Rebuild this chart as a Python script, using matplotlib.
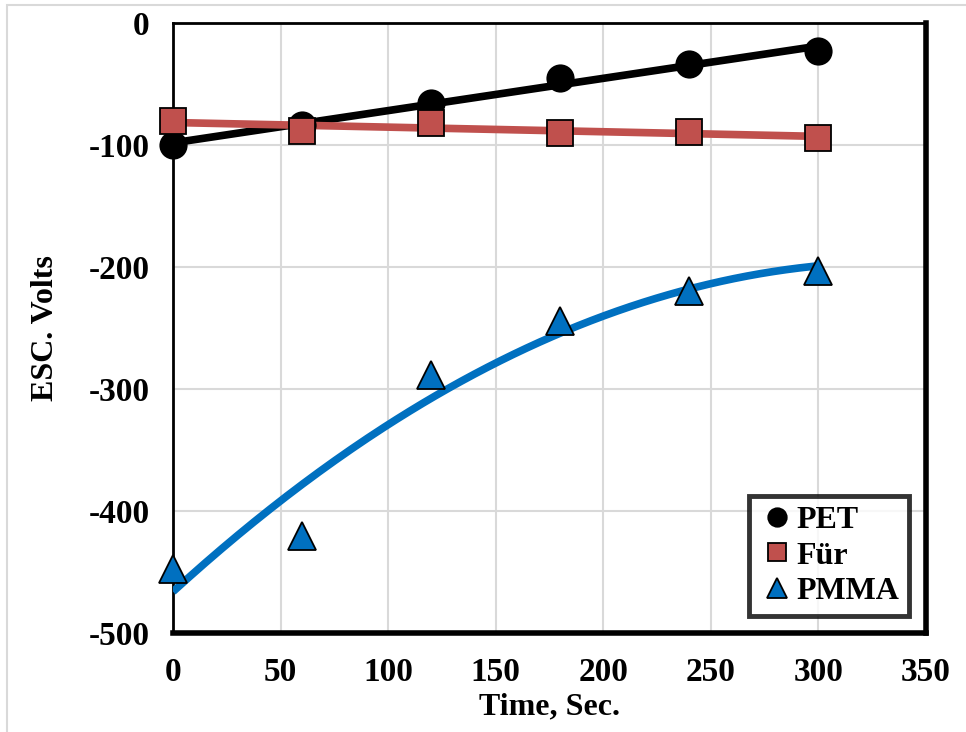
import numpy as np
import matplotlib.pyplot as plt
from matplotlib.patches import Rectangle

plt.rcParams['font.family'] = ['Liberation Serif', 'DejaVu Serif']
plt.rcParams['font.weight'] = 'bold'
plt.rcParams['axes.unicode_minus'] = False

# Electrostatic charge readings vs time
time_s = [0, 60, 120, 180, 240, 300]
pet = [-100, -84, -65.5, -45, -34, -23]
fur = [-80, -88.5, -82, -90, -89, -94]
pmma = [-447.5, -420.5, -288.5, -244, -219.7, -203]

fig = plt.figure(figsize=(9.66, 7.32), dpi=100)
ax = fig.add_axes([173 / 966, 1 - 633 / 732, (926 - 173) / 966, (633 - 23) / 732])

# light outer chart-area border
fig.patches.append(Rectangle((7 / 966, -0.1), 1.2, 1 - 5 / 732 + 0.1,
                             transform=fig.transFigure, fill=False,
                             edgecolor='#d9d9d9', lw=1.5, zorder=0))

xs = np.linspace(0, 300, 200)
series = [
    ('PET', pet, 'black', 'o', 1),
    ('Für', fur, '#c0504d', 's', 1),
    ('PMMA', pmma, '#0070c0', '^', 2),
]
for name, vals, col, mk, deg in series:
    coef = np.polyfit(time_s, vals, deg)
    ax.plot(xs, np.polyval(coef, xs), color=col, lw=5.5, zorder=3,
            solid_capstyle='butt')
for name, vals, col, mk, deg in series:
    size = 19 if mk != '^' else 20
    ax.plot(time_s, vals, linestyle='none', marker=mk, markersize=size,
            markerfacecolor=col, markeredgecolor='black', markeredgewidth=1.3,
            label=name, zorder=4, clip_on=False)

ax.set_xlim(0, 350)
ax.set_ylim(-500, 0)
ax.set_xticks(range(0, 351, 50))
ax.set_yticks(range(-500, 1, 100))
ax.grid(True, color='#d9d9d9', lw=1.5)
ax.set_axisbelow(True)
ax.tick_params(length=0, labelsize=24, pad=17)

for side in ['top', 'left']:
    ax.spines[side].set_linewidth(2)
for side in ['right', 'bottom']:
    ax.spines[side].set_linewidth(4)

ax.set_xlabel('Time, Sec.', fontsize=23, fontweight='bold', va='center')
ax.set_ylabel('ESC. Volts', fontsize=23, fontweight='bold', va='center')
ax.xaxis.set_label_coords(0.5, (633 - 707) / 610)
ax.yaxis.set_label_coords((45 - 173) / 753, 0.5)

leg = ax.legend(loc='lower right', bbox_to_anchor=(909 / 966, 1 - 616 / 732),
                bbox_transform=fig.transFigure, fontsize=23, frameon=True,
                fancybox=False, handletextpad=0.0, handlelength=1.2,
                borderpad=0.3, labelspacing=0.2, markerscale=0.7,
                borderaxespad=0)
leg.get_frame().set_edgecolor('black')
leg.get_frame().set_linewidth(3.5)

fig.savefig('out.png', dpi=100)
